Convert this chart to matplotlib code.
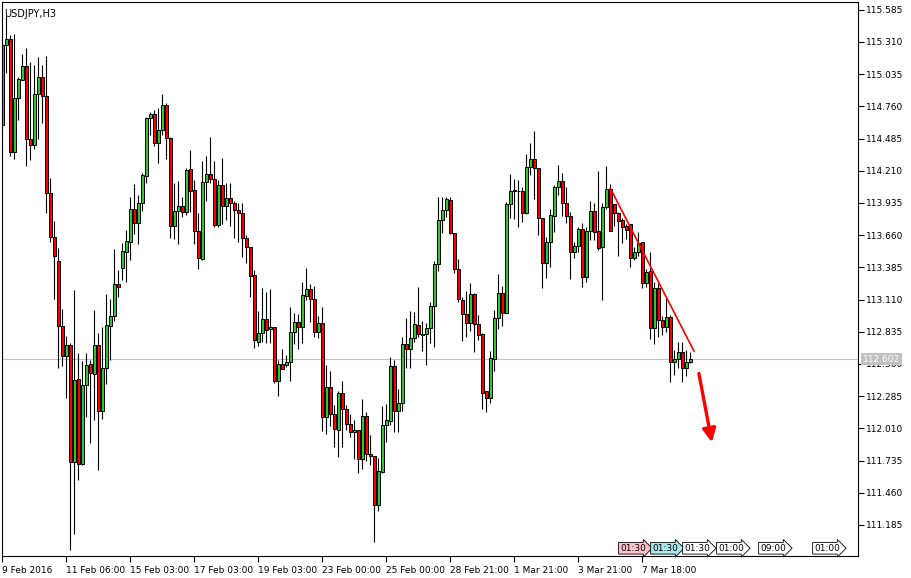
import numpy as np
import matplotlib
matplotlib.use('Agg')
import matplotlib.pyplot as plt
import matplotlib.transforms as mtransforms

# USDJPY H3 candles
opens = [114.600, 115.286, 115.336, 114.367, 114.828, 114.984, 115.101, 114.479, 114.426, 114.866,
         115.007, 114.846, 114.021, 113.642, 113.437, 112.880, 112.630, 112.724, 111.726, 112.430,
         111.703, 112.377, 112.557, 112.474, 112.718, 112.161, 112.527, 112.886, 112.968, 113.243,
         113.377, 113.519, 113.604, 113.883, 113.761, 113.932, 114.168, 114.658, 114.694, 114.444,
         114.558, 114.771, 114.487, 113.741, 113.869, 113.906, 113.860, 114.222, 114.045, 113.695,
         113.456, 114.111, 114.180, 114.139, 113.747, 114.086, 113.909, 113.975, 113.932, 113.875,
         113.846, 113.633, 113.556, 113.320, 112.750, 112.827, 112.941, 112.856, 112.873, 112.417,
         112.557, 112.553, 112.574, 112.830, 112.916, 112.873, 113.143, 113.197, 113.112, 112.830,
         112.907, 112.104, 112.360, 112.130, 111.996, 112.309, 112.173, 112.047, 111.976, 111.996,
         111.746, 112.115, 111.791, 111.774, 111.355, 111.640, 112.039, 112.075, 112.542, 112.161,
         112.224, 112.730, 112.685, 112.779, 112.893, 112.813, 112.813, 112.864, 113.055, 113.411,
         113.789, 113.875, 113.960, 113.681, 113.368, 113.106, 112.984, 112.907, 113.157, 112.898,
         112.813, 112.329, 112.266, 112.602, 112.950, 113.163, 112.998, 113.923, 114.043, 114.034,
         114.037, 113.846, 114.239, 114.308, 114.231, 113.804, 113.424, 113.599, 113.826, 114.068,
         114.122, 113.932, 113.826, 113.513, 113.570, 113.712, 113.305, 113.695, 113.866, 113.695,
         113.556, 113.898, 114.051, 113.926, 113.846, 113.789, 113.738, 113.755, 113.467, 113.513,
         113.599, 113.249, 113.354, 112.869, 113.206, 112.935, 112.873, 112.958, 112.574, 112.600,
         112.665, 112.523, 112.574]
highs = [115.301, 115.540, 115.365, 115.380, 115.013, 115.209, 115.262, 115.139, 115.115, 115.183,
         115.115, 115.189, 114.147, 113.781, 113.554, 113.032, 112.797, 112.735, 113.188, 112.651,
         112.583, 112.651, 112.598, 113.017, 112.821, 112.876, 113.158, 113.111, 113.540, 113.362,
         113.595, 113.704, 113.988, 114.097, 114.003, 114.188, 114.666, 114.714, 114.729, 114.743,
         114.865, 114.786, 114.501, 114.103, 114.122, 113.988, 114.231, 114.387, 114.131, 113.852,
         114.293, 114.336, 114.501, 114.293, 114.131, 114.321, 114.105, 114.108, 113.954, 113.932,
         113.932, 113.661, 113.560, 113.362, 113.012, 113.206, 113.174, 113.197, 112.873, 112.594,
         112.688, 112.636, 113.049, 112.998, 112.986, 113.257, 113.377, 113.243, 113.226, 112.969,
         113.044, 112.551, 112.502, 112.209, 112.331, 112.414, 112.209, 112.130, 112.081, 111.998,
         112.261, 112.147, 111.953, 111.774, 111.754, 112.203, 112.218, 112.617, 112.594, 112.343,
         112.787, 112.950, 113.012, 113.001, 113.214, 112.929, 112.912, 113.091, 113.439, 113.983,
         113.983, 113.988, 113.983, 113.681, 113.454, 113.134, 113.183, 113.249, 113.168, 112.978,
         112.822, 112.329, 112.673, 113.021, 113.328, 113.226, 113.945, 114.182, 114.137, 114.131,
         114.074, 114.353, 114.444, 114.549, 114.231, 113.804, 113.641, 113.881, 114.088, 114.259,
         114.193, 114.074, 113.860, 113.604, 113.732, 113.761, 113.732, 113.951, 113.937, 114.208,
         113.932, 114.250, 114.094, 113.926, 113.860, 113.804, 113.755, 113.755, 113.561, 113.689,
         113.604, 113.368, 113.513, 113.262, 113.249, 112.969, 113.121, 112.978, 112.679, 112.750,
         112.750, 112.679, 112.665]
lows = [114.558, 115.042, 114.332, 114.314, 114.646, 114.984, 114.250, 114.300, 114.396, 114.484,
        114.617, 113.848, 113.605, 113.115, 112.527, 112.542, 112.269, 110.969, 111.104, 111.573,
        111.700, 112.108, 111.887, 112.079, 111.652, 112.087, 112.386, 112.592, 112.929, 113.134,
        113.277, 113.262, 113.448, 113.670, 113.584, 113.869, 114.103, 114.515, 114.424, 114.279,
        114.515, 114.310, 113.638, 113.627, 113.582, 113.812, 113.832, 113.860, 113.582, 113.368,
        113.448, 113.954, 114.108, 113.732, 113.732, 113.755, 113.789, 113.741, 113.635, 113.604,
        113.471, 113.425, 113.134, 112.699, 112.716, 112.750, 112.741, 112.741, 112.400, 112.289,
        112.519, 112.531, 112.417, 112.730, 112.685, 112.741, 113.106, 112.921, 112.793, 112.779,
        111.990, 111.959, 112.030, 111.848, 111.763, 111.853, 111.998, 111.939, 111.746, 111.626,
        111.660, 111.731, 111.697, 111.037, 111.304, 111.631, 111.891, 112.039, 111.981, 111.976,
        112.158, 112.528, 112.528, 112.750, 112.793, 112.673, 112.551, 112.741, 112.702, 113.356,
        113.676, 113.817, 113.670, 113.339, 113.092, 112.758, 112.793, 112.844, 112.659, 112.764,
        112.173, 112.147, 112.229, 112.502, 112.858, 112.887, 112.992, 113.804, 113.798, 113.732,
        113.775, 113.838, 114.174, 113.969, 113.661, 113.206, 113.291, 113.390, 113.689, 114.003,
        113.826, 113.761, 113.285, 113.467, 113.519, 113.220, 113.262, 113.618, 113.618, 113.533,
        113.106, 113.881, 113.698, 113.738, 113.482, 113.590, 113.624, 113.390, 113.448, 113.482,
        113.211, 113.220, 112.770, 112.730, 112.793, 112.807, 112.835, 112.408, 112.466, 112.523,
        112.403, 112.457, 112.565]
closes = [115.286, 115.336, 114.367, 114.831, 114.992, 115.101, 114.479, 114.426, 114.866, 115.007,
          114.846, 114.021, 113.642, 113.481, 112.880, 112.630, 112.724, 111.726, 112.422, 111.703,
          112.377, 112.548, 112.483, 112.718, 112.161, 112.527, 112.891, 112.968, 113.244, 113.220,
          113.524, 113.607, 113.883, 113.761, 113.932, 114.174, 114.658, 114.694, 114.444, 114.558,
          114.771, 114.487, 113.741, 113.866, 113.906, 113.860, 114.216, 114.039, 113.698, 113.462,
          114.111, 114.180, 114.137, 113.747, 114.086, 113.911, 113.975, 113.932, 113.875, 113.846,
          113.633, 113.556, 113.315, 112.764, 112.827, 112.941, 112.850, 112.873, 112.417, 112.557,
          112.519, 112.574, 112.830, 112.916, 112.873, 113.149, 113.197, 113.112, 112.830, 112.907,
          112.104, 112.360, 112.130, 112.002, 112.309, 112.173, 112.047, 111.976, 111.996, 111.746,
          112.115, 111.788, 111.774, 111.355, 111.646, 112.039, 112.081, 112.542, 112.161, 112.224,
          112.730, 112.685, 112.779, 112.898, 112.813, 112.810, 112.864, 113.055, 113.411, 113.789,
          113.875, 113.966, 113.681, 113.368, 113.112, 112.984, 112.907, 113.157, 112.898, 112.807,
          112.314, 112.266, 112.608, 112.950, 113.163, 112.992, 113.926, 114.039, 114.034, 114.039,
          113.846, 114.239, 114.308, 114.231, 113.804, 113.419, 113.599, 113.832, 114.068, 114.122,
          113.932, 113.826, 113.513, 113.570, 113.712, 113.305, 113.695, 113.866, 113.689, 113.548,
          113.898, 114.051, 113.698, 113.846, 113.783, 113.732, 113.704, 113.467, 113.513, 113.595,
          113.249, 113.348, 112.869, 113.206, 112.935, 112.873, 112.958, 112.574, 112.602, 112.665,
          112.523, 112.574, 112.602]

time_labels = ['9 Feb 2016', '11 Feb 06:00', '15 Feb 03:00', '17 Feb 03:00', '19 Feb 03:00',
               '23 Feb 00:00', '25 Feb 00:00', '28 Feb 21:00', '1 Mar 21:00', '3 Mar 21:00',
               '7 Mar 18:00']
label_step = 16
price_labels = [115.585, 115.310, 115.035, 114.760, 114.485, 114.210, 113.935, 113.660, 113.385,
                113.110, 112.835, 112.560, 112.285, 112.010, 111.735, 111.460, 111.185]
last_price = 112.602

# trend line and the arrow drawn on the chart (bar index, price)
trend_x = [152.0, 172.9]
trend_y = [114.060, 112.670]
arrow_from = (174.0, 112.502)
arrow_to = (177.5, 111.868)

# calendar event markers along the bottom
event_pos = [153.9, 161.9, 169.9, 178.4, 188.9, 202.4]
event_text = ['01:30', '01:30', '01:30', '01:00', '09:00', '01:00']
event_color = ['#ffc0cb', '#a8e8e8', 'white', 'white', 'white', 'white']

GREEN = '#33c433'
RED = '#ff0000'
FONT = 6.5

o = np.array(opens)
h = np.array(highs)
l = np.array(lows)
c = np.array(closes)
x = np.arange(len(o))

fig = plt.figure(figsize=(9.12, 5.78), dpi=100)
ax = fig.add_axes([2 / 912, 22 / 578, 856 / 912, 554 / 578])

ax.axhline(last_price, color='#c0c0c0', lw=0.8, zorder=0)

ax.vlines(x, l, h, color='black', lw=0.8, zorder=1)
body_h = np.maximum(np.abs(c - o), 0.004)
colors = np.where(c >= o, GREEN, RED)
ax.bar(x, body_h, bottom=np.minimum(o, c), width=0.75, color=colors,
       edgecolor='black', linewidth=0.7, zorder=2)

ax.plot(trend_x, trend_y, color='red', lw=1.2, zorder=3)
ax.annotate('', xy=arrow_to, xytext=arrow_from,
            arrowprops=dict(arrowstyle='-|>,head_length=0.8,head_width=0.4', color='red', lw=2.4))

ax.set_xlim(-0.075, 213.9)
ax.set_ylim(110.920, 115.651)

ax.yaxis.tick_right()
ax.set_yticks(price_labels)
ax.set_yticklabels(['%.3f' % p for p in price_labels])
ax.set_xticks([i * label_step for i in range(len(time_labels))])
ax.set_xticklabels(time_labels, ha='left')
ax.tick_params(axis='both', direction='out', length=4, width=0.8, labelsize=FONT, colors='black', pad=2)
ax.tick_params(axis='x', pad=3)
for s in ax.spines.values():
    s.set_linewidth(0.8)
    s.set_color('black')

ax.text(0.003, 0.987, 'USDJPY,H3', transform=ax.transAxes, fontsize=FONT + 0.5, va='top', ha='left')

# current price tag on the axis
ax.text(1.006, last_price, '%.3f' % last_price, transform=mtransforms.blended_transform_factory(ax.transAxes, ax.transData),
        fontsize=FONT, color='white', va='center', ha='left', zorder=5,
        bbox=dict(boxstyle='square,pad=0.2', fc='#c0c0c0', ec='none'))

trans = mtransforms.blended_transform_factory(ax.transData, ax.transAxes)
for pos, txt, col in zip(event_pos, event_text, event_color):
    ax.text(pos + 0.5, 0.014, txt, transform=trans, fontsize=FONT, va='center', ha='left',
            bbox=dict(boxstyle='rarrow,pad=0.15', fc=col, ec='black', lw=0.6))

plt.savefig('out.png', dpi=100)
plt.close()
